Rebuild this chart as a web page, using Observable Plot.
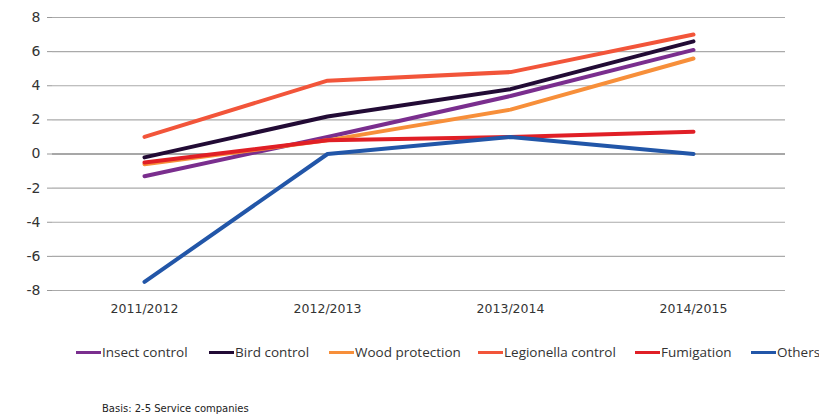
<!DOCTYPE html>
<html>
<head>
<meta charset="utf-8">
<script src="https://cdn.jsdelivr.net/npm/d3@7"></script>
<script src="https://cdn.jsdelivr.net/npm/@observablehq/plot@0.6"></script>
<style>
  html, body { margin: 0; padding: 0; background: #fff; }
  #wrap { position: relative; width: 819px; height: 417px; overflow: hidden; font-family: "DejaVu Sans", Verdana, sans-serif; }
  #chart { position: absolute; left: 0; top: 0; }
  .leg { position: absolute; top: 344px; height: 16px; display: flex; align-items: center; white-space: nowrap; font-family: "Open Sans", "DejaVu Sans", sans-serif; font-size: 13.5px; color: #333; }
  .sw { display: inline-block; width: 25px; height: 3px; margin-right: 1px; }
  #caption { position: absolute; left: 102px; top: 403px; font-size: 10px; color: #222; }
</style>
</head>
<body>
<div id="wrap">
  <div id="chart"></div>
  <div id="legend"></div>
  <div id="caption"></div>
</div>
<script>
const periods = ["2011/2012", "2012/2013", "2013/2014", "2014/2015"];
const seriesNames = ["Insect control", "Bird control", "Wood protection", "Legionella control", "Fumigation", "Others"];
const seriesColors = ["#7a2e8e", "#220b35", "#f78f3a", "#f2553a", "#e01f26", "#2256a8"];
const insectControl = [-1.3, 1.0, 3.4, 6.1];
const birdControl = [-0.2, 2.2, 3.8, 6.6];
const woodProtection = [-0.6, 0.8, 2.6, 5.6];
const legionellaControl = [1.0, 4.3, 4.8, 7.0];
const fumigation = [-0.5, 0.8, 1.0, 1.3];
const others = [-7.5, 0.0, 1.0, 0.0];
const yTicks = [-8, -6, -4, -2, 0, 2, 4, 6, 8];
const captionText = "Basis: 2-5 Service companies";
const legendX = [76, 209, 329, 478, 635, 751];

const seriesValues = [insectControl, birdControl, woodProtection, legionellaControl, fumigation, others];
const data = [];
seriesNames.forEach((name, i) => {
  periods.forEach((p, j) => data.push({series: name, period: p, value: seriesValues[i][j]}));
});

const chart = Plot.plot({
  width: 819,
  height: 325,
  marginTop: 17,
  marginBottom: 35,
  marginLeft: 52,
  marginRight: 34,
  style: {fontFamily: "'DejaVu Sans', Verdana, sans-serif", fontSize: "13px", color: "#333", background: "transparent"},
  x: {type: "point", domain: periods, padding: 0.5, label: null},
  y: {domain: [-8, 8], label: null},
  color: {domain: seriesNames, range: seriesColors},
  marks: [
    Plot.gridY(yTicks, {stroke: "#aaa", strokeOpacity: 1, strokeWidth: 1.2}),
    Plot.ruleY([0], {stroke: "#999", strokeWidth: 1.5}),
    Plot.ruleX([0], {frameAnchor: "left", stroke: "#999", strokeWidth: 1.2, y1: -8, y2: 8}),
    Plot.axisY(yTicks, {tickSize: 5, tickPadding: 7, stroke: "#999", fontSize: 14, fill: "#333", tickFormat: d => String(d)}),
    Plot.axisX({tickSize: 0, tickPadding: 14, fontSize: 12.5, fill: "#333"}),
    Plot.line(data, {x: "period", y: "value", z: "series", stroke: "series", strokeWidth: 4, strokeLinecap: "round", strokeLinejoin: "round"})
  ]
});
document.getElementById("chart").appendChild(chart);

const legend = document.getElementById("legend");
seriesNames.forEach((name, i) => {
  const item = document.createElement("div");
  item.className = "leg";
  item.style.left = legendX[i] + "px";
  const sw = document.createElement("span");
  sw.className = "sw";
  sw.style.background = seriesColors[i];
  item.appendChild(sw);
  item.appendChild(document.createTextNode(name));
  legend.appendChild(item);
});
document.getElementById("caption").textContent = captionText;
</script>
</body>
</html>
